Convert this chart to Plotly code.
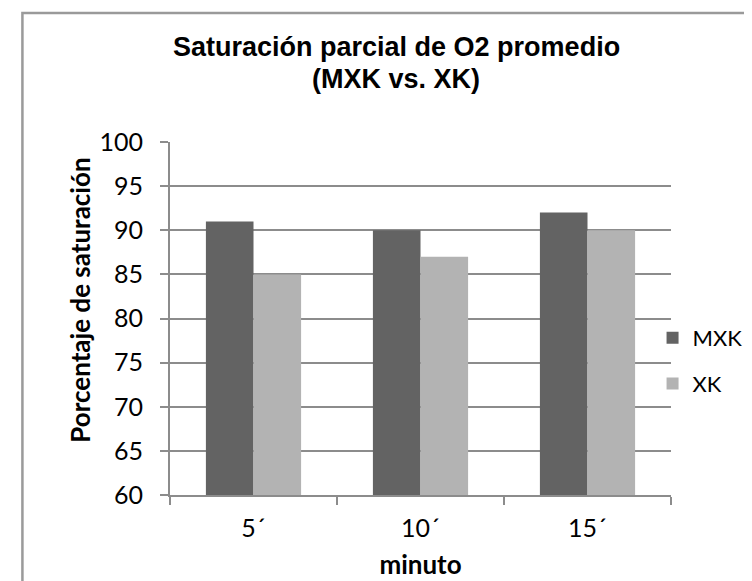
import plotly.graph_objects as go

categories = ["5´", "10´", "15´"]
mxk_values = [91, 90, 92]
xk_values = [85, 87, 90]
series_names = ["MXK", "XK"]
y_ticks = [60, 65, 70, 75, 80, 85, 90, 95, 100]
title_lines = ["Saturación parcial de O2 promedio", "(MXK vs. XK)"]
y_title = "Porcentaje de saturación"
x_title = "minuto"

W, H = 752, 581
L, R, T, B = 162, 678, 134, 487
PW, PH = R - L, B - T


def px_x(x):
    return (x - L) / PW


def px_y(y):
    return (B - y) / PH


grid = "#8c8c8c"
fam = "Lato, Carlito, sans-serif"
tick_font = dict(family=fam, size=25, color="#000000")
bold_font = dict(family=fam, size=26, color="#000000", weight="bold")
title_font = dict(family="Liberation Sans, Arial, sans-serif", size=27,
                  color="#000000", weight="bold")

fig = go.Figure()
fig.add_trace(go.Bar(x=categories, y=mxk_values, name=series_names[0],
                     marker=dict(color="#636363", line=dict(width=0)),
                     legendgroup="a"))
fig.add_trace(go.Bar(x=categories, y=xk_values, name=series_names[1],
                     marker=dict(color="#b3b3b3", line=dict(width=0)),
                     legendgroup="b"))

fig.update_layout(
    width=W, height=H,
    margin=dict(l=L, r=W - R, t=T, b=H - B, pad=0),
    paper_bgcolor="white", plot_bgcolor="white",
    barmode="group", bargap=0.43, bargroupgap=0,
    legend=dict(x=px_x(659), xanchor="left",
                y=px_y(309), yanchor="top",
                font=dict(family=fam, size=22, color="#000000"),
                tracegroupgap=14, bgcolor="rgba(0,0,0,0)", traceorder="grouped"),
    showlegend=True,
    shapes=[dict(type="rect", xref="paper", yref="paper",
                 x0=px_x(10), x1=1.3, y0=-0.4, y1=px_y(5),
                 line=dict(color="#9a9a9a", width=2.5), fillcolor="rgba(0,0,0,0)",
                 layer="below")],
    annotations=[
        dict(text=title_lines[0], xref="paper", yref="paper",
             x=px_x(395), y=px_y(39), xanchor="center", yanchor="middle",
             showarrow=False, font=title_font),
        dict(text=title_lines[1], xref="paper", yref="paper",
             x=px_x(395), y=px_y(71), xanchor="center", yanchor="middle",
             showarrow=False, font=title_font),
        dict(text=y_title, xref="paper", yref="paper", textangle=-90,
             x=px_x(69), y=px_y(292), xanchor="center", yanchor="middle",
             showarrow=False, font=bold_font),
    ],
)

fig.update_xaxes(
    type="category", showline=True, linecolor=grid, linewidth=2,
    ticks="outside", tickson="boundaries", ticklen=8, tickwidth=2, tickcolor=grid,
    tickfont=tick_font, showgrid=False, ticklabelstandoff=10,
    title=dict(text=x_title, font=bold_font, standoff=15),
)
fig.update_yaxes(
    range=[60, 100], tickvals=y_ticks, showline=True, linecolor=grid, linewidth=2,
    ticks="outside", ticklen=8, tickwidth=2, tickcolor=grid,
    showgrid=True, gridcolor=grid, gridwidth=2, zeroline=False,
    tickfont=tick_font, ticklabelstandoff=12,
)

fig.write_html("out.html")
